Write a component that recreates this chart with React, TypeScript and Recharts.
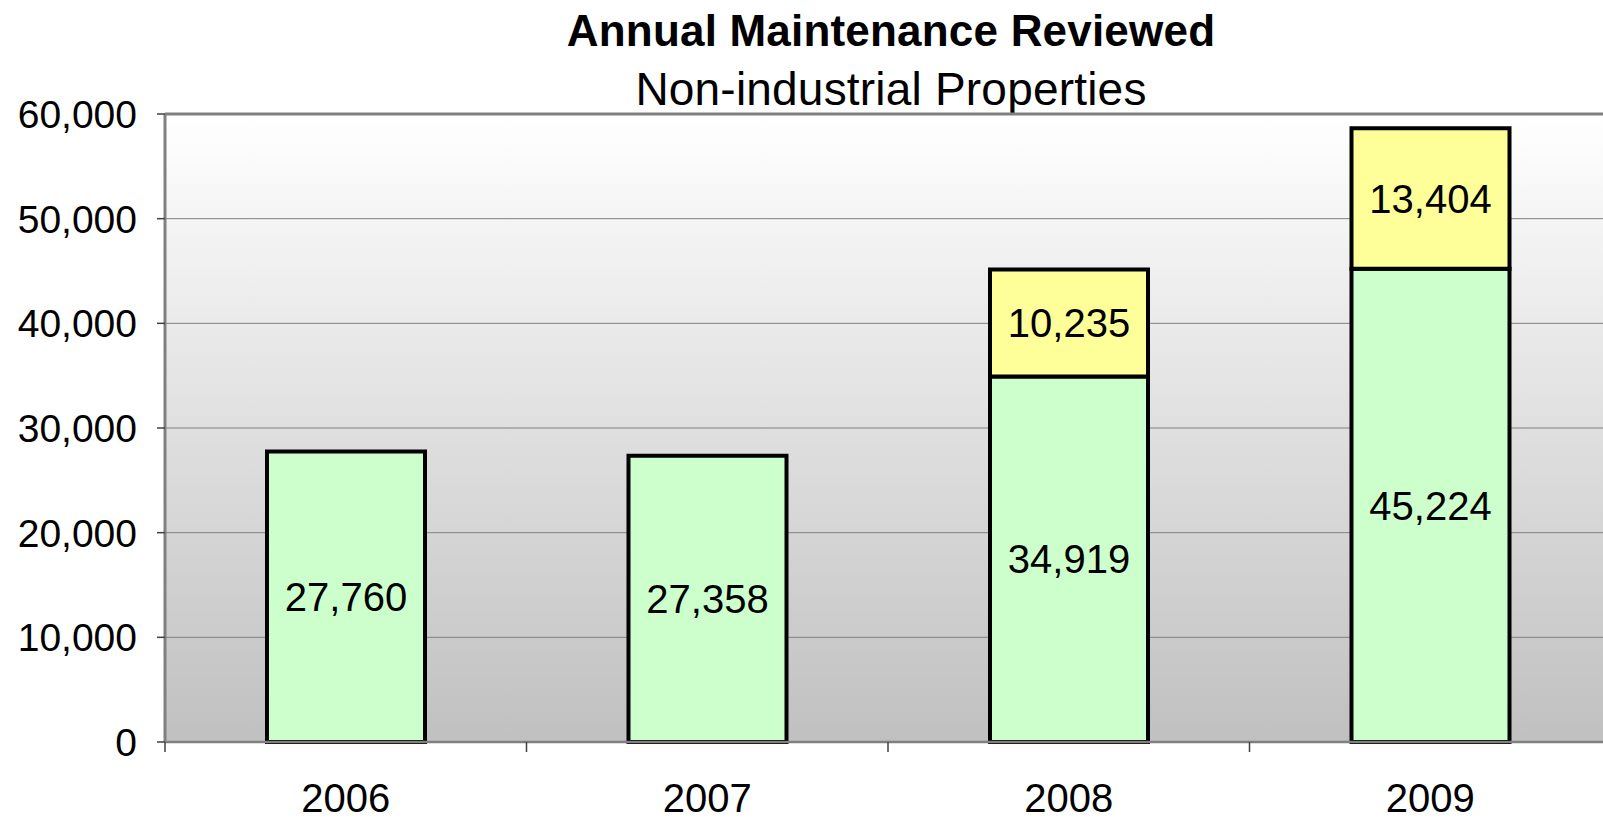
import { BarChart, Bar, XAxis, YAxis, CartesianGrid, LabelList, ReferenceLine } from "recharts"

const years = ["2006", "2007", "2008", "2009"]
const reviewed = [27760, 27358, 34919, 45224]
const added = [null, null, 10235, 13404]
const yTicks = [0, 10000, 20000, 30000, 40000, 50000, 60000]

const CHART_W = 1620
const CHART_H = 819
const MARGIN = { top: 114, right: 9, bottom: 0, left: 0 }
const Y_W = 165
const PLOT_W = CHART_W - MARGIN.left - MARGIN.right - Y_W

const fmt = (v: any) => (v == null || v === 0 ? "" : Number(v).toLocaleString("en-US"))

const data = years.map((y, i) => ({ year: y, reviewed: reviewed[i], added: added[i] }))

function XTick(props: any) {
  const { x, y, payload, index } = props
  const band = PLOT_W / years.length
  const axisY = y - 10
  return (
    <g>
      <line x1={x - band / 2} x2={x - band / 2} y1={axisY} y2={axisY + 10} stroke="#404040" strokeWidth={1.5} />
      {index === years.length - 1 && (
        <line x1={x + band / 2} x2={x + band / 2} y1={axisY} y2={axisY + 10} stroke="#404040" strokeWidth={1.5} />
      )}
      <text x={x} y={axisY + 70} textAnchor="middle" fontSize={40} fill="#000" fontFamily="'Liberation Sans', Arial, sans-serif">
        {payload.value}
      </text>
    </g>
  )
}

export default function App() {
  return (
    <div style={{ position: "absolute", left: 0, top: 0, width: 1603, height: 819, overflow: "hidden", background: "#fff", fontFamily: "'Liberation Sans', Arial, sans-serif" }}>
      <svg width={0} height={0} style={{ position: "absolute" }}>
        <defs>
          <linearGradient id="plotBg" x1="0" y1="0" x2="0" y2="1">
            <stop offset="0%" stopColor="#ffffff" />
            <stop offset="100%" stopColor="#c0c0c0" />
          </linearGradient>
        </defs>
      </svg>
      <div style={{ position: "absolute", left: 0, width: 1782, top: 9, textAlign: "center", fontSize: 44, lineHeight: "44px", fontWeight: "bold", color: "#000", letterSpacing: 0.2 }}>
        Annual Maintenance Reviewed
      </div>
      <div style={{ position: "absolute", left: 0, width: 1782, top: 66, textAlign: "center", fontSize: 46, lineHeight: "46px", color: "#000", letterSpacing: 0.2 }}>
        Non-industrial Properties
      </div>
      <div style={{ position: "absolute", left: 0, top: 0 }}>
        <BarChart width={CHART_W} height={CHART_H} data={data} margin={MARGIN} barSize={158}>
          <CartesianGrid vertical={false} stroke="#808080" strokeWidth={1} fill="url(#plotBg)" />
          <XAxis
            dataKey="year"
            height={77}
            tickSize={10}
            tickMargin={0}
            tickLine={false}
            axisLine={{ stroke: "#808080", strokeWidth: 2.5 }}
            tick={<XTick />}
            interval={0}
          />
          <YAxis
            width={Y_W}
            domain={[0, 60000]}
            ticks={yTicks}
            interval={0}
            tickFormatter={(v: number) => v.toLocaleString("en-US")}
            tickSize={8}
            tickMargin={20}
            tickLine={{ stroke: "#404040", strokeWidth: 1.5 }}
            axisLine={{ stroke: "#808080", strokeWidth: 3 }}
            tick={{ fontSize: 39, fill: "#000", fontFamily: "'Liberation Sans', Arial, sans-serif" }}
          />
          <ReferenceLine y={60000} stroke="#808080" strokeWidth={3} />
          <Bar dataKey="reviewed" stackId="a" fill="#ccffcc" stroke="#000" strokeWidth={4} isAnimationActive={false}>
            <LabelList dataKey="reviewed" position="center" formatter={fmt} fontSize={40} fill="#000" fontFamily="'Liberation Sans', Arial, sans-serif" />
          </Bar>
          <Bar dataKey="added" stackId="a" fill="#ffff99" stroke="#000" strokeWidth={4} isAnimationActive={false}>
            <LabelList dataKey="added" position="center" formatter={fmt} fontSize={40} fill="#000" fontFamily="'Liberation Sans', Arial, sans-serif" />
          </Bar>
        </BarChart>
      </div>
    </div>
  )
}
